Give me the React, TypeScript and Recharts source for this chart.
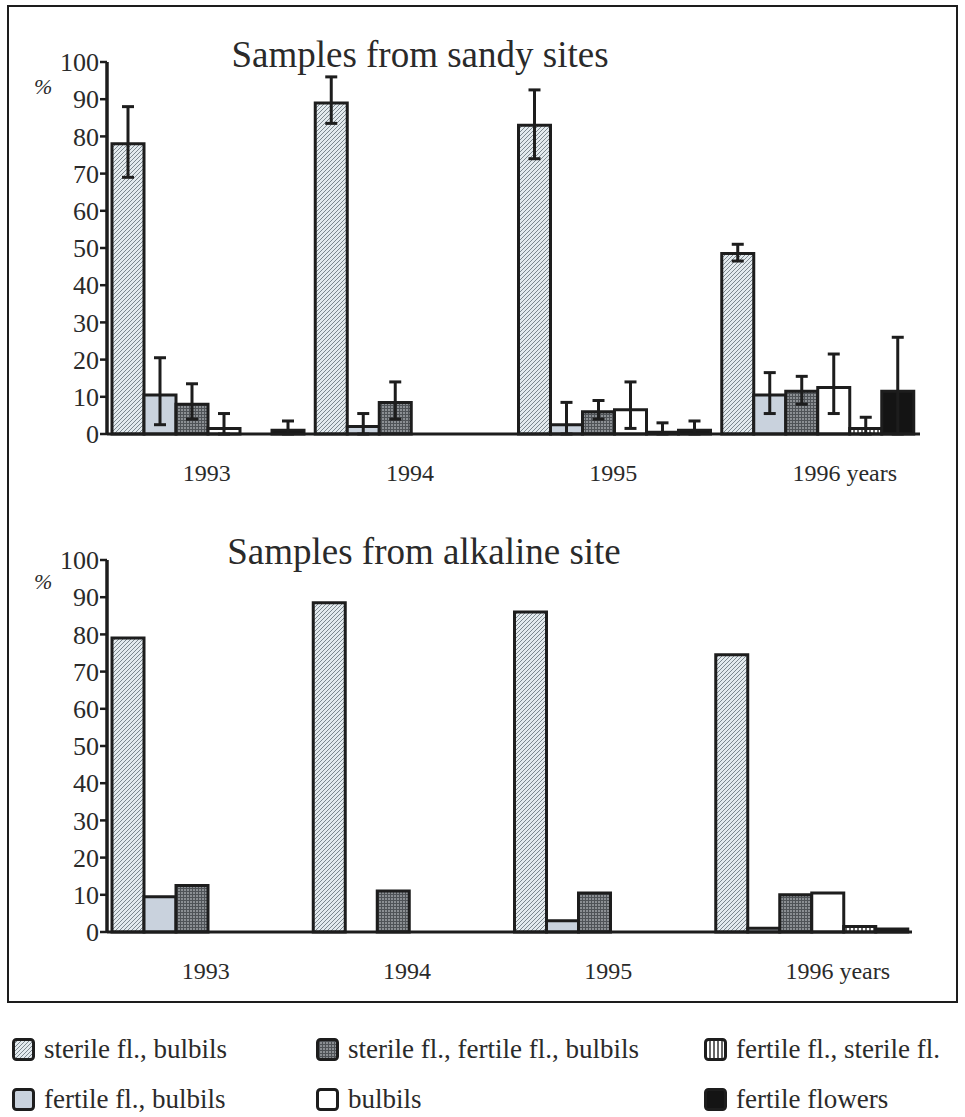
import React from 'react'
import { BarChart, Bar, XAxis, YAxis, ErrorBar } from 'recharts'

const YEARS = ['1993', '1994', '1995', '1996 years']
const Y_TICKS = [0, 10, 20, 30, 40, 50, 60, 70, 80, 90, 100]

// sandy sites, values in % and [low, high] error offsets
const SANDY_STERILE = [78, 89, 83, 48.5]
const SANDY_STERILE_ERR = [[9, 10], [5.5, 7], [9, 9.5], [2, 2.5]]
const SANDY_FERT_BULB = [10.5, 2, 2.5, 10.5]
const SANDY_FERT_BULB_ERR = [[8, 10], [2, 3.5], [2.5, 6], [5, 6]]
const SANDY_STER_FERT = [8, 8.5, 6, 11.5]
const SANDY_STER_FERT_ERR = [[4, 5.5], [4.5, 5.5], [2, 3], [3.5, 4]]
const SANDY_BULBILS = [1.5, 0, 6.5, 12.5]
const SANDY_BULBILS_ERR = [[1.5, 4], null, [5, 7.5], [7, 9]]
const SANDY_FERT_STER = [0, 0, 0.5, 1.5]
const SANDY_FERT_STER_ERR = [null, null, [0.5, 2.5], [1.5, 3]]
const SANDY_FLOWERS = [1, 0, 1, 11.5]
const SANDY_FLOWERS_ERR = [[1, 2.5], null, [1, 2.5], [11.5, 14.5]]

// alkaline site
const ALK_STERILE = [79, 88.5, 86, 74.5]
const ALK_FERT_BULB = [9.5, 0, 3, 1]
const ALK_STER_FERT = [12.5, 11, 10.5, 10]
const ALK_BULBILS = [0, 0, 0, 10.5]
const ALK_FERT_STER = [0, 0, 0, 1.5]
const ALK_FLOWERS = [0, 0, 0, 0.8]

const INK = '#1d1d1d'
const SERIF = '"Liberation Serif", "DejaVu Serif", "Times New Roman", serif'

const SERIES = [
  { key: 'sterile', name: 'sterile fl., bulbils', fill: 'url(#hatch)' },
  { key: 'fertBulb', name: 'fertile fl., bulbils', fill: '#c9d2dd' },
  { key: 'sterFert', name: 'sterile fl., fertile fl., bulbils', fill: 'url(#grid)' },
  { key: 'bulbils', name: 'bulbils', fill: '#ffffff' },
  { key: 'fertSter', name: 'fertile fl., sterile fl.', fill: 'url(#stripes)' },
  { key: 'flowers', name: 'fertile flowers', fill: '#141414' },
]

const sandyData = YEARS.map((year, i) => ({
  year,
  sterile: SANDY_STERILE[i], sterileErr: SANDY_STERILE_ERR[i],
  fertBulb: SANDY_FERT_BULB[i], fertBulbErr: SANDY_FERT_BULB_ERR[i],
  sterFert: SANDY_STER_FERT[i], sterFertErr: SANDY_STER_FERT_ERR[i],
  bulbils: SANDY_BULBILS[i], bulbilsErr: SANDY_BULBILS_ERR[i],
  fertSter: SANDY_FERT_STER[i], fertSterErr: SANDY_FERT_STER_ERR[i],
  flowers: SANDY_FLOWERS[i], flowersErr: SANDY_FLOWERS_ERR[i],
}))

const alkalineData = YEARS.map((year, i) => ({
  year,
  sterile: ALK_STERILE[i],
  fertBulb: ALK_FERT_BULB[i],
  sterFert: ALK_STER_FERT[i],
  bulbils: ALK_BULBILS[i],
  fertSter: ALK_FERT_STER[i],
  flowers: ALK_FLOWERS[i],
}))

function Patterns() {
  return (
    <svg width={0} height={0} style={{ position: 'absolute' }}>
      <defs>
        <pattern id='hatch' patternUnits='userSpaceOnUse' width={4} height={4}>
          <rect width={4} height={4} fill='#e3eaee' />
          <path d='M-1,1 l2,-2 M0,4 l4,-4 M3,5 l2,-2' stroke='#7c878e' strokeWidth={1} />
        </pattern>
        <pattern id='grid' patternUnits='userSpaceOnUse' width={3} height={3}>
          <rect width={3} height={3} fill='#8b8f93' />
          <path d='M0,0.5 H3 M0.5,0 V3' stroke='#4f5357' strokeWidth={1} />
        </pattern>
        <pattern id='stripes' patternUnits='userSpaceOnUse' width={4} height={4}>
          <rect width={4} height={4} fill='#ffffff' />
          <path d='M2,0 V4' stroke='#333' strokeWidth={1.5} />
        </pattern>
      </defs>
    </svg>
  )
}

function YearTick({ x, y, payload }: any) {
  return (
    <text x={x - 26} y={y + 47} textAnchor='start' fill='#2a2a2a'
      fontSize={24} style={{ fontFamily: SERIF }}>
      {payload.value}
    </text>
  )
}

function Panel({ data, right, withErr }: any) {
  return (
    <BarChart width={965} height={500} data={data}
      margin={{ top: 62, right, bottom: 36, left: 0 }}
      barCategoryGap={5} barGap={0}>
      <XAxis dataKey='year' interval={0} height={30} tickSize={0} tickMargin={0}
        tickLine={false} tick={<YearTick />}
        axisLine={{ stroke: INK, strokeWidth: 3 }} />
      <YAxis domain={[0, 100]} ticks={Y_TICKS} interval={0} width={107}
        tickSize={7} tickMargin={1}
        tickLine={{ stroke: INK, strokeWidth: 2.5 }}
        axisLine={{ stroke: INK, strokeWidth: 3.5 }}
        tick={{ fill: '#2a2a2a', fontSize: 26, style: { fontFamily: SERIF } }} />
      {SERIES.map((s) => (
        <Bar key={s.key} dataKey={s.key} fill={s.fill} stroke={INK} strokeWidth={3}
          isAnimationActive={false}>
          {withErr && (
            <ErrorBar dataKey={s.key + 'Err'} width={6} stroke={INK} strokeWidth={3} />
          )}
        </Bar>
      ))}
    </BarChart>
  )
}

function Swatch({ fill }: { fill: string }) {
  return (
    <svg width={24} height={24} style={{ marginRight: 8, flexShrink: 0 }}>
      <rect x={1.5} y={1.5} width={20} height={20} rx={3} fill={fill}
        stroke={INK} strokeWidth={3} />
    </svg>
  )
}

// legend cells: [series index, left, top]
const LEGEND_CELLS = [
  [0, 12, 1036], [1, 12, 1086],
  [2, 316, 1036], [3, 316, 1086],
  [4, 704, 1036], [5, 704, 1086],
]

export default function App() {
  return (
    <div style={{ position: 'absolute', left: 0, top: 0, width: 965, height: 1117,
      background: '#fff', fontFamily: SERIF, color: '#2a2a2a' }}>
      <Patterns />
      <div style={{ position: 'absolute', left: 7, top: 5, width: 947, height: 994,
        border: `2.5px solid ${INK}` }} />

      <div style={{ position: 'absolute', left: 0, top: 0 }}>
        <Panel data={sandyData} right={45} withErr />
      </div>
      <div style={{ position: 'absolute', left: 0, top: 498 }}>
        <Panel data={alkalineData} right={53} withErr={false} />
      </div>

      <div style={{ position: 'absolute', left: 420, top: 36, transform: 'translateX(-50%)',
        fontSize: 37, lineHeight: 1, whiteSpace: 'nowrap' }}>
        Samples from sandy sites
      </div>
      <div style={{ position: 'absolute', left: 424, top: 533, transform: 'translateX(-50%)',
        fontSize: 37, lineHeight: 1, whiteSpace: 'nowrap' }}>
        Samples from alkaline site
      </div>
      <div style={{ position: 'absolute', left: 34, top: 76, fontSize: 22,
        fontStyle: 'italic', lineHeight: 1 }}>%</div>
      <div style={{ position: 'absolute', left: 34, top: 571, fontSize: 22,
        fontStyle: 'italic', lineHeight: 1 }}>%</div>

      {LEGEND_CELLS.map(([sIdx, left, top]) => {
        const s = SERIES[sIdx]
        return (
          <div key={s.key} style={{ position: 'absolute', left, top,
            display: 'flex', alignItems: 'center', fontSize: 27, lineHeight: 1,
            whiteSpace: 'nowrap' }}>
            <Swatch fill={s.fill} />
            {s.name}
          </div>
        )
      })}
    </div>
  )
}
